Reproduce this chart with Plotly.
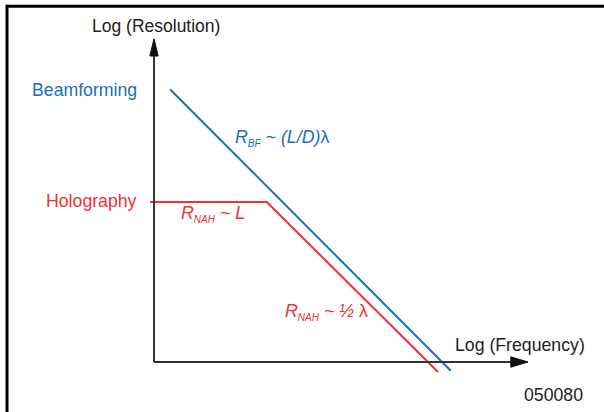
import plotly.graph_objects as go

# Conceptual log-log axes: x = log(frequency), y = log(resolution), origin at the axes corner
beamforming_logf = [0.4, 7.42]
beamforming_logr = [6.82, -0.22]

holography_logf = [-0.1, 2.82, 7.1]
holography_logr = [4.0, 4.0, -0.25]

x_axis_end = 9.35
y_axis_end = 8.08

BLUE = "#1c6fb6"
RED = "#ec3338"
AXIS = "#333333"
FONT = "Liberation Sans, Arial, sans-serif"

fig = go.Figure()
fig.add_trace(go.Scatter(x=beamforming_logf, y=beamforming_logr, mode="lines",
                         line=dict(color=BLUE, width=2), hoverinfo="skip"))
fig.add_trace(go.Scatter(x=holography_logf, y=holography_logr, mode="lines",
                         line=dict(color=RED, width=2), hoverinfo="skip"))

# Axis lines with filled arrowheads
head_len, head_half = 0.43, 0.13
shapes = [
    dict(type="line", x0=0, y0=0, x1=x_axis_end - head_len * 0.8, y1=0,
         line=dict(color=AXIS, width=2)),
    dict(type="line", x0=0, y0=0, x1=0, y1=y_axis_end - head_len * 0.8,
         line=dict(color=AXIS, width=2)),
    dict(type="path",
         path=f"M {x_axis_end} 0 L {x_axis_end - head_len} {head_half} "
              f"L {x_axis_end - head_len} {-head_half} Z",
         fillcolor="#111111", line=dict(color="#111111", width=1)),
    dict(type="path",
         path=f"M 0 {y_axis_end} L {head_half * 0.8} {y_axis_end - head_len} "
              f"L {-head_half * 0.8} {y_axis_end - head_len} Z",
         fillcolor="#111111", line=dict(color="#111111", width=1)),
    # frame: top and left edges
    dict(type="line", xref="paper", yref="paper", x0=6 / 604, x1=1,
         y0=1 - 6.3 / 412, y1=1 - 6.3 / 412, line=dict(color="black", width=3)),
    dict(type="line", xref="paper", yref="paper", x0=7 / 604, x1=7 / 604,
         y0=0, y1=1 - 4.8 / 412, line=dict(color="black", width=3)),
]

def label(text, x, y, color, size=17.7, xanchor="left"):
    fig.add_annotation(x=x, y=y, text=text, showarrow=False, xanchor=xanchor,
                       yanchor="middle", borderpad=0,
                       font=dict(family=FONT, size=size, color=color))

sub = '<sub><span style="font-size:10px">{}</span></sub>'

label("Log (Resolution)", 0.06, 8.40, "#222222", 17.5, "center")
label("Log (Frequency)", 7.50, 0.42, "#222222")
label("050080", 10.74, -0.83, "#222222", xanchor="right")
label("Beamforming", -0.40, 6.79, BLUE, xanchor="right")
label("Holography", -0.40, 4.03, RED, xanchor="right")
label("<i>R" + sub.format("BF") + " ~ (L/D)</i>λ", 2.01, 5.59, BLUE, 17.8)
label("<i>R" + sub.format("NAH") + " ~ L</i>", 0.66, 3.70, RED, 17.8)
label("<i>R" + sub.format("NAH") + " ~ ½ </i>λ", 3.25, 1.24, RED, 17.8)

fig.update_layout(
    width=604, height=412,
    margin=dict(l=0, r=0, t=0, b=0),
    paper_bgcolor="white", plot_bgcolor="white",
    showlegend=False,
    shapes=shapes,
    xaxis=dict(range=[-154 / 40, 450 / 40], visible=False, fixedrange=True),
    yaxis=dict(range=[-50 / 40, 362 / 40], visible=False, fixedrange=True),
)

fig.write_html("out.html", config={"displayModeBar": False})
